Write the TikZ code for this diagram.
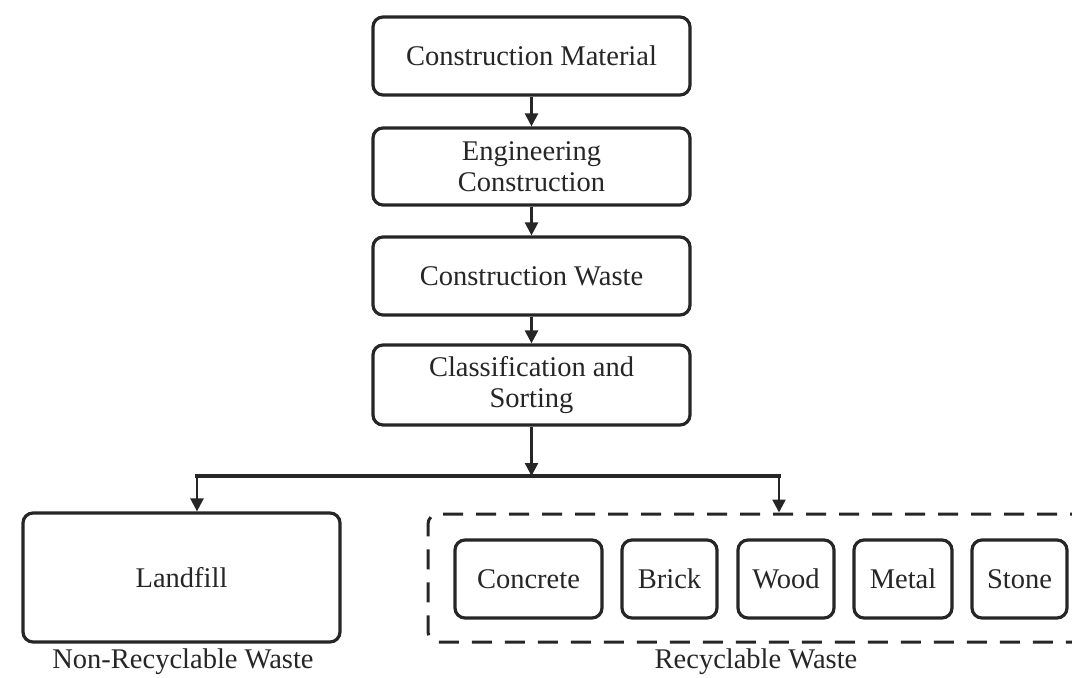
\documentclass[tikz,border=0pt]{standalone}
\usepackage{fontspec}
\setmainfont{Liberation Serif}
\usetikzlibrary{arrows.meta}

\begin{document}
\begin{tikzpicture}[
    x=1pt, y=-1pt,
    txt/.style={font=\fontsize{28.5}{31}\selectfont, text=black!85},
    stepbox/.style={txt, draw=black!85, line width=3.2pt, rounded corners=10pt,
                    align=center, inner sep=0pt, fill=white},
    mainbox/.style={stepbox, minimum width=317pt},
    itembox/.style={stepbox, minimum height=78pt},
    groupbox/.style={draw=black!85, line width=3pt, dash pattern=on 20pt off 13pt,
                     rounded corners=10pt, inner sep=0pt},
    arr/.style={draw=black!85, line width=2.4pt,
                -{Triangle[length=13pt, width=13pt]}},
  ]
  \useasboundingbox (0,0) rectangle (1072,678);
  \clip (0,0) rectangle (1072,678);

  % main process chain
  \node[mainbox, minimum height=78pt] (cm) at (531.5,56)  {Construction Material};
  \node[mainbox, minimum height=77pt] (ec) at (531.5,166.5) {Engineering\\Construction};
  \node[mainbox, minimum height=78pt] (cw) at (531.5,276) {Construction Waste};
  \node[mainbox, minimum height=80pt] (cs) at (531.5,385) {Classification and\\Sorting};

  \draw[arr] (cm) -- (ec);
  \draw[arr] (ec) -- (cw);
  \draw[arr] (cw) -- (cs);

  % non-recyclable branch
  \node[mainbox, minimum height=129pt] (landfill) at (181.5,577.5) {Landfill};
  \node[txt] (nrlabel) at (183,662) {Non-Recyclable Waste};

  % recyclable group
  \node[groupbox, minimum width=672pt, minimum height=128pt] (recycle) at (764,578) {};
  \node[itembox, minimum width=147pt] (concrete) at (528.5,579) {Concrete};
  \node[itembox, minimum width=95pt]  (brick)    at (669.5,579) {Brick};
  \node[itembox, minimum width=96pt]  (wood)     at (786,579)   {Wood};
  \node[itembox, minimum width=98pt]  (metal)    at (903,579)   {Metal};
  \node[itembox, minimum width=95pt]  (stone)    at (1019.5,579) {Stone};
  \node[txt] (rlabel) at (756,662) {Recyclable Waste};

  % split into the two branches
  \coordinate (split) at (531.5,476);
  \coordinate (bl) at (197,476);
  \coordinate (br) at (779,476);
  \draw[arr] (cs) -- (split);
  \draw[draw=black!85, line width=3.2pt, line cap=rect] (bl) -- (br);
  \draw[arr] (bl) -- (bl |- landfill.north);
  \draw[arr] (br) -- (br |- recycle.north);
\end{tikzpicture}
\end{document}
